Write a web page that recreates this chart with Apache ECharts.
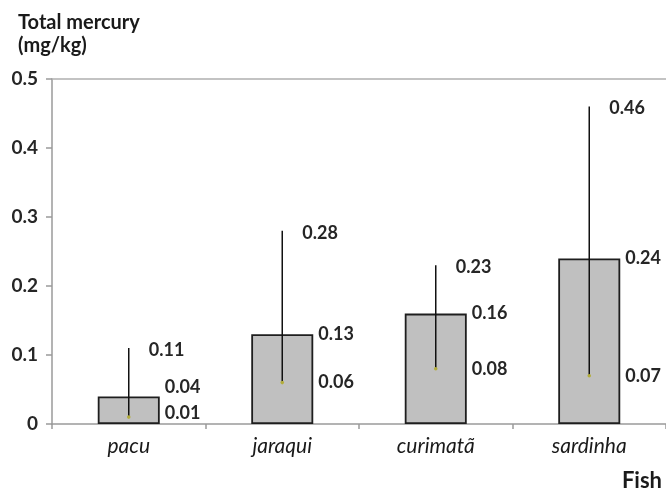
<!DOCTYPE html>
<html>
<head>
<meta charset="utf-8">
<script src="https://cdn.jsdelivr.net/npm/echarts@6/dist/echarts.min.js"></script>
<style>
  html, body { margin: 0; padding: 0; background: #fff; }
  #chart { width: 666px; height: 490px; }
</style>
</head>
<body>
<div id="chart"></div>
<script>
// Total mercury per fish species: mean (bar), min–max range (whisker)
const categories = ['pacu', 'jaraqui', 'curimatã', 'sardinha'];
const meanValues = [0.04, 0.13, 0.16, 0.24];
const minValues  = [0.01, 0.06, 0.08, 0.07];
const maxValues  = [0.11, 0.28, 0.23, 0.46];
const yTicks = [0, 0.1, 0.2, 0.3, 0.4, 0.5];

const FONT = 'Lato, "Open Sans", sans-serif';
const LABEL_FONT = 'bold 18px ' + FONT;
const LABEL_COLOR = '#262626';
const BAR_WIDTH = 62;

const chart = echarts.init(document.getElementById('chart'), null, { renderer: 'canvas' });

const rangeData = categories.map((c, i) => [i, minValues[i], maxValues[i], meanValues[i]]);

function fmt(v) { return v.toFixed(2); }

function renderRange(params, api) {
  const idx = api.value(0);
  const lo = api.coord([idx, api.value(1)]);
  const hi = api.coord([idx, api.value(2)]);
  const mid = api.coord([idx, api.value(3)]);
  const cs = params.coordSys;
  const bottom = cs.y + cs.height;
  const x = lo[0];

  // keep the lower pair of labels inside the plot and apart from each other
  const minLabelY = Math.min(lo[1], bottom - 11);
  const meanLabelY = Math.min(mid[1], minLabelY - 26);
  const sideX = x + BAR_WIDTH / 2 + 5;

  const txt = (tx, ty, s) => ({
    type: 'text',
    x: tx, y: ty,
    style: { text: s, font: LABEL_FONT, fill: LABEL_COLOR, align: 'left', verticalAlign: 'middle' }
  });

  return {
    type: 'group',
    children: [
      { type: 'line', shape: { x1: x, y1: lo[1], x2: x, y2: hi[1] },
        style: { stroke: '#111', lineWidth: 1.5 } },
      { type: 'circle', shape: { cx: x, cy: lo[1], r: 1.8 },
        style: { fill: '#b3ad3c' } },
      txt(x + 20, hi[1] + 2, fmt(api.value(2))),
      txt(sideX, meanLabelY, fmt(api.value(3))),
      txt(sideX, minLabelY, fmt(api.value(1)))
    ]
  };
}

const option = {
  animation: false,
  grid: { left: 52, top: 79, width: 616, height: 345 },
  xAxis: [
    {
      type: 'category',
      data: categories,
      axisLine: { lineStyle: { color: '#9a9a9a', width: 1.5 } },
      axisTick: { show: true, length: 5, lineStyle: { color: '#9a9a9a', width: 1.5 } },
      axisLabel: { margin: 12, color: '#1a1a1a', fontFamily: FONT, fontStyle: 'italic', fontSize: 21 }
    },
    {
      // top border of the plot
      type: 'category',
      position: 'top',
      data: categories,
      axisLine: { lineStyle: { color: '#b0b0b0', width: 1.5 } },
      axisTick: { show: false },
      axisLabel: { show: false }
    }
  ],
  yAxis: {
    type: 'value',
    min: yTicks[0],
    max: yTicks[yTicks.length - 1],
    interval: 0.1,
    axisLine: { show: true, lineStyle: { color: '#9a9a9a', width: 1.5 } },
    axisTick: { show: true, length: 6, lineStyle: { color: '#9a9a9a', width: 1.5 } },
    splitLine: { show: false },
    axisLabel: {
      margin: 14, color: LABEL_COLOR, fontFamily: FONT, fontWeight: 'bold', fontSize: 19,
      formatter: v => String(Math.round(v * 10) / 10)
    }
  },
  series: [
    {
      type: 'bar',
      data: meanValues,
      barWidth: BAR_WIDTH,
      itemStyle: { color: '#c0c0c0', borderColor: '#1e1e1e', borderWidth: 1.8 }
    },
    {
      type: 'custom',
      data: rangeData,
      renderItem: renderRange,
      z: 5,
      encode: { x: 0, y: [1, 2] }
    }
  ],
  graphic: [
    { type: 'text', left: 18, top: 11,
      style: { text: 'Total mercury\n(mg/kg)', font: 'bold 20px ' + FONT, fill: '#1a1a1a', lineHeight: 23 } },
    { type: 'text', right: 4, top: 470,
      style: { text: 'Fish', font: 'bold 22px ' + FONT, fill: '#1a1a1a' } }
  ]
};

chart.setOption(option);
</script>
</body>
</html>
